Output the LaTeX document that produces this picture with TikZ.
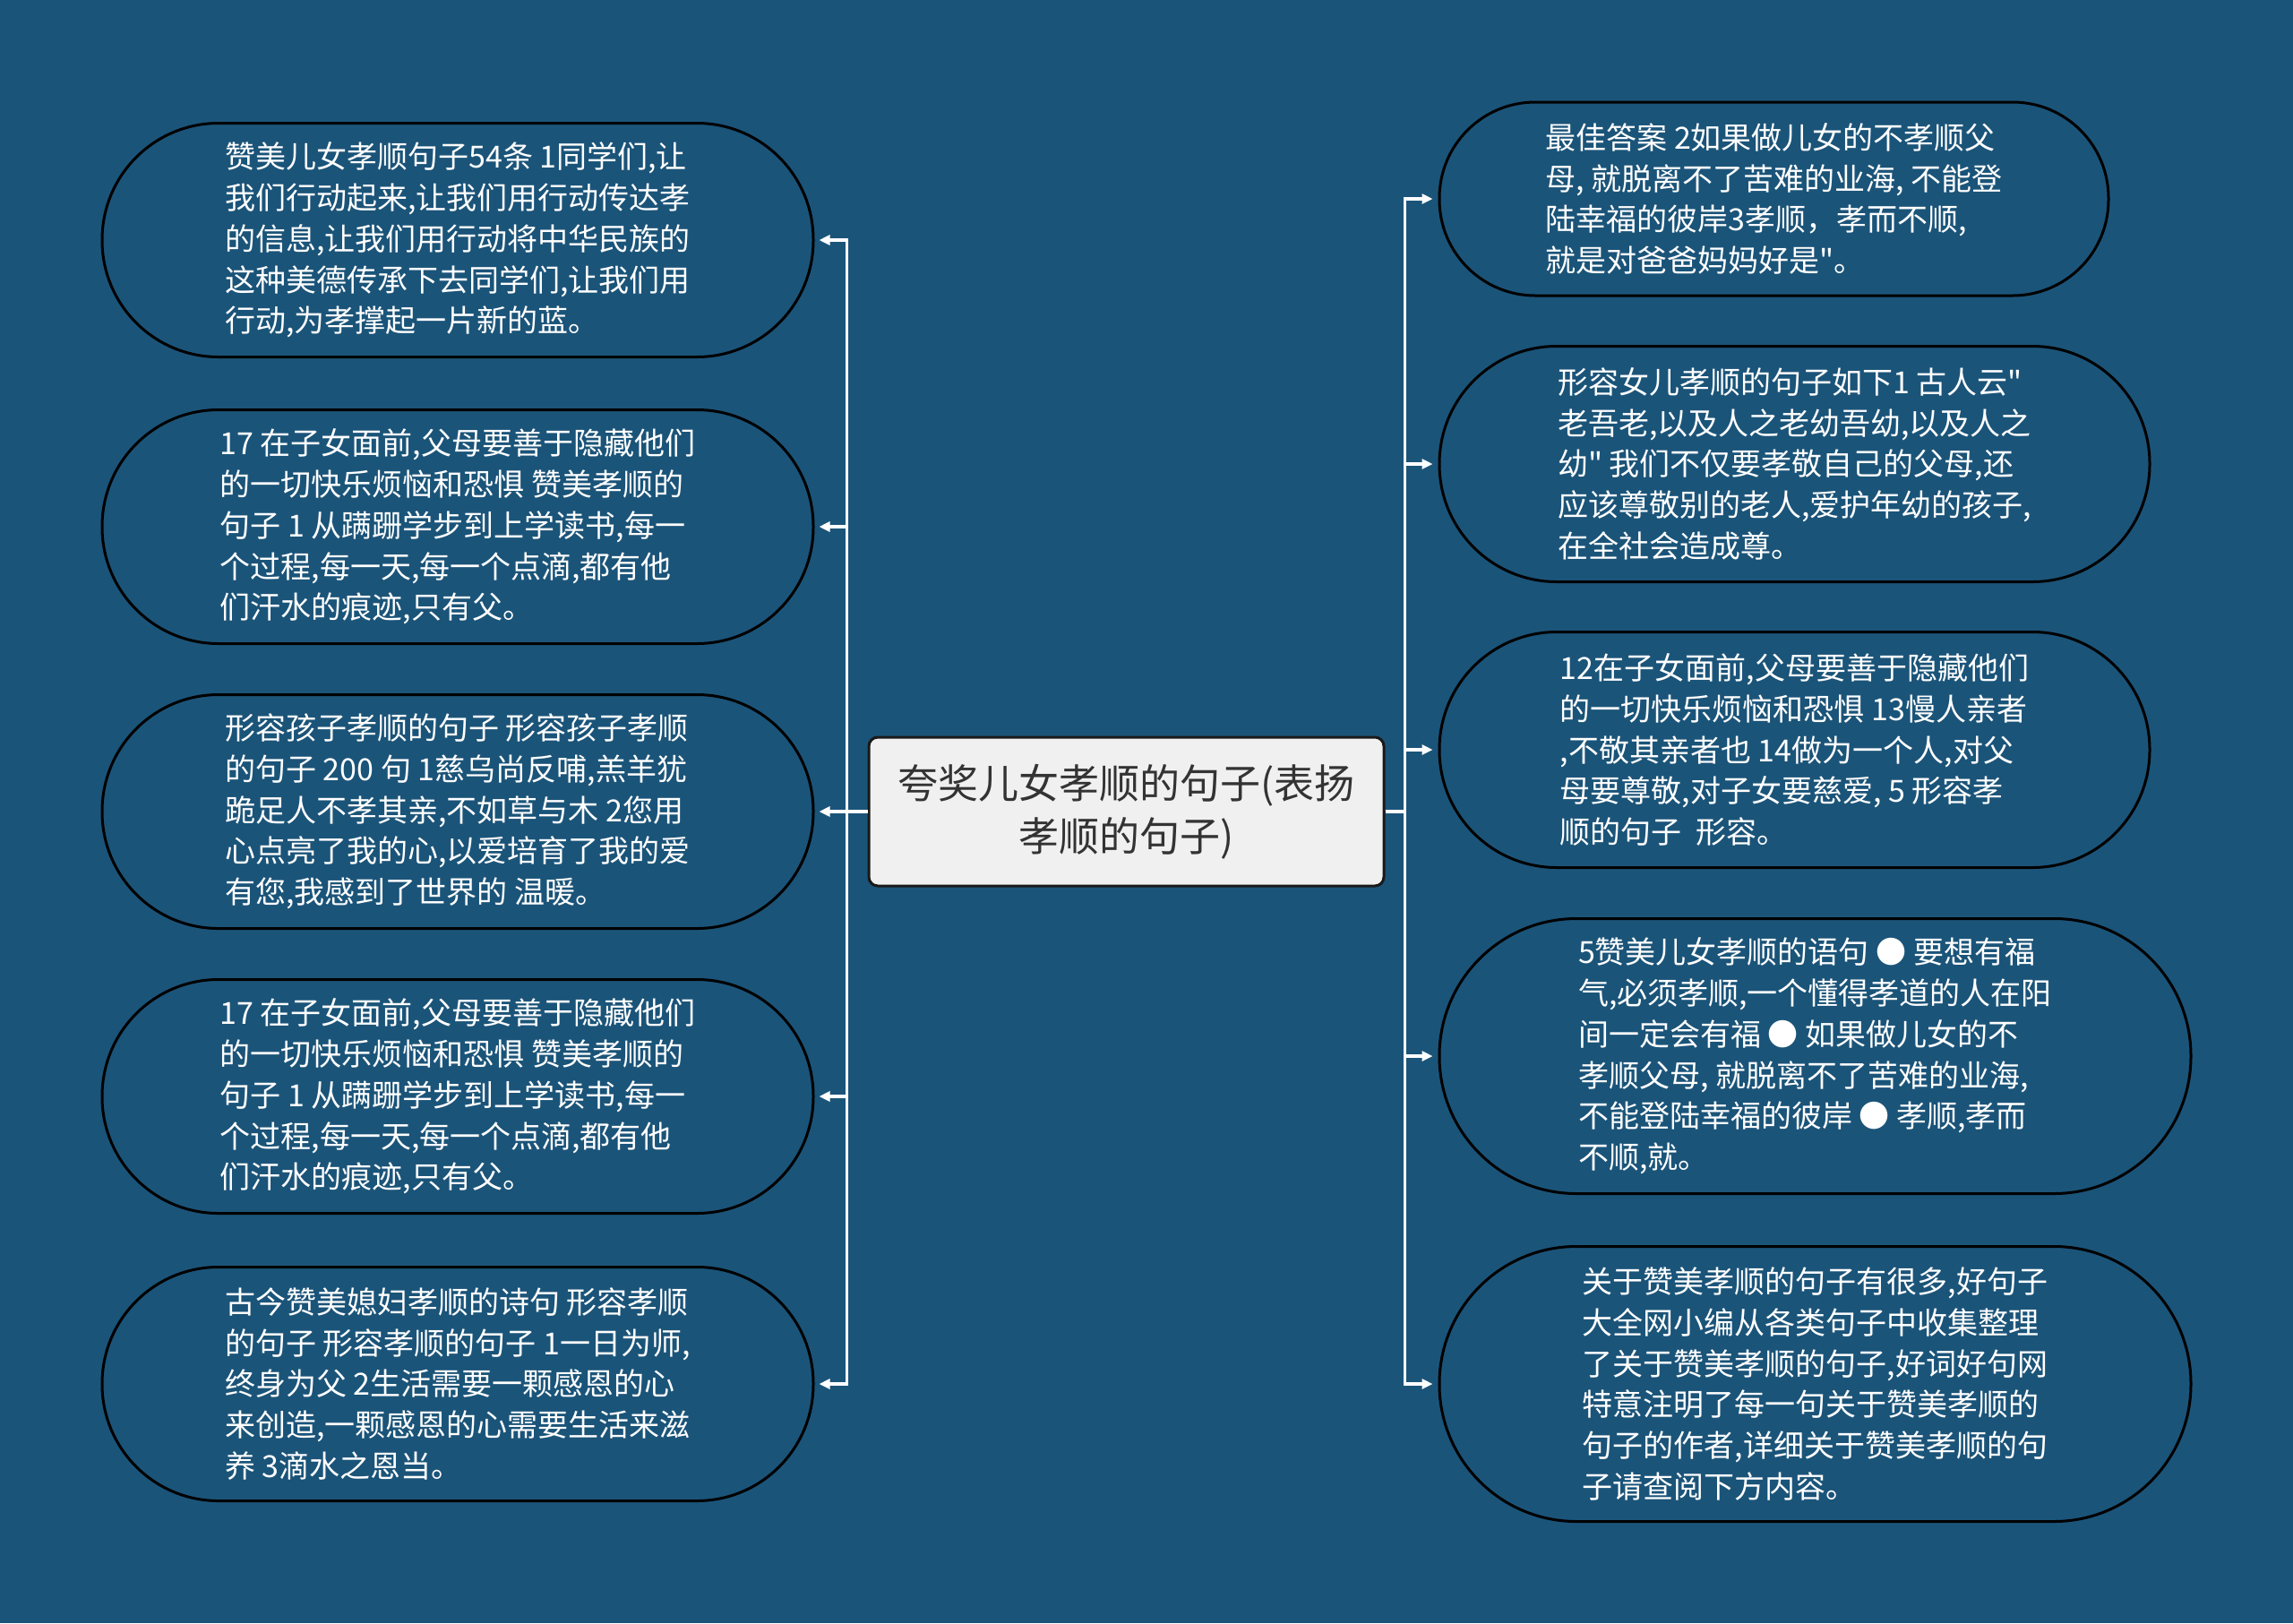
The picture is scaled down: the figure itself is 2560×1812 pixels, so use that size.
\documentclass[tikz,border=0pt]{standalone}
\usepackage{fontspec}
\setmainfont{Noto Sans CJK SC}[Ligatures=TeXOff]
\usetikzlibrary{arrows.meta}
\definecolor{bgblue}{HTML}{1B5479}
\definecolor{boxfill}{HTML}{F0F0F0}
\definecolor{boxtext}{HTML}{333333}
\begin{document}
\begin{tikzpicture}[x=0.5pt,y=-0.5pt,
  leaf/.style={draw=black, line width=1.5pt, fill=bgblue, text=white, align=left,
    font=\fontsize{17pt}{22.9pt}\selectfont, inner sep=0pt},
  lsize/.style={minimum width=397pt, minimum height=130.5pt, rounded corners=65pt},
  r1size/.style={minimum width=373.5pt, minimum height=108pt, rounded corners=53.5pt},
  r2size/.style={minimum width=396.5pt, minimum height=131.5pt, rounded corners=65.5pt},
  r4size/.style={minimum width=419.5pt, minimum height=153.5pt, rounded corners=76.5pt},
  rootbox/.style={draw=black!90, line width=1.5pt, fill=boxfill, text=boxtext, align=center,
    rounded corners=5pt, minimum width=287.5pt, minimum height=83pt,
    font=\fontsize{22.5pt}{29.4pt}\selectfont},
  conn/.style={draw=white, line width=1.6pt, -{Triangle[length=6pt,width=5.5pt]}}
]
\fill[bgblue] (0,0) rectangle (2560,1812);
\useasboundingbox (0,0) rectangle (2560,1812);

\node[rootbox] (C) at (1257.5,906) {夸奖儿女孝顺的句子(表扬\\孝顺的句子)};

\node[leaf,lsize] (L1) at (511,268) {赞美儿女孝顺句子54条 1同学们,让\\我们行动起来,让我们用行动传达孝\\的信息,让我们用行动将中华民族的\\这种美德传承下去同学们,让我们用\\行动,为孝撑起一片新的蓝。};
\node[leaf,lsize] (L2) at (511,588) {17 在子女面前,父母要善于隐藏他们\\的一切快乐烦恼和恐惧 赞美孝顺的\\句子 1 从蹒跚学步到上学读书,每一\\个过程,每一天,每一个点滴,都有他\\们汗水的痕迹,只有父。};
\node[leaf,lsize] (L3) at (511,906) {形容孩子孝顺的句子 形容孩子孝顺\\的句子 200 句 1慈乌尚反哺,羔羊犹\\跪足人不孝其亲,不如草与木 2您用\\心点亮了我的心,以爱培育了我的爱\\有您,我感到了世界的 温暖。};
\node[leaf,lsize] (L4) at (511,1224) {17 在子女面前,父母要善于隐藏他们\\的一切快乐烦恼和恐惧 赞美孝顺的\\句子 1 从蹒跚学步到上学读书,每一\\个过程,每一天,每一个点滴,都有他\\们汗水的痕迹,只有父。};
\node[leaf,lsize] (L5) at (511,1545) {古今赞美媳妇孝顺的诗句 形容孝顺\\的句子 形容孝顺的句子 1一日为师,\\终身为父 2生活需要一颗感恩的心\\来创造,一颗感恩的心需要生活来滋\\养 3滴水之恩当。};

\node[leaf,r1size] (R1) at (1980.5,222) {最佳答案 2如果做儿女的不孝顺父\\母, 就脱离不了苦难的业海, 不能登\\陆幸福的彼岸3孝顺，孝而不顺,\\就是对爸爸妈妈好是"。};
\node[leaf,r2size] (R2) at (2003.5,518) {形容女儿孝顺的句子如下1 古人云"\\老吾老,以及人之老幼吾幼,以及人之\\幼" 我们不仅要孝敬自己的父母,还\\应该尊敬别的老人,爱护年幼的孩子,\\在全社会造成尊。};
\node[leaf,r2size] (R3) at (2003.5,837) {12在子女面前,父母要善于隐藏他们\\的一切快乐烦恼和恐惧 13慢人亲者\\,不敬其亲者也 14做为一个人,对父\\母要尊敬,对子女要慈爱, 5 形容孝\\顺的句子 \ 形容。};
\node[leaf,r4size] (R4) at (2026.5,1179) {5赞美儿女孝顺的语句 ● 要想有福\\气,必须孝顺,一个懂得孝道的人在阳\\间一定会有福 ● 如果做儿女的不\\孝顺父母, 就脱离不了苦难的业海,\\不能登陆幸福的彼岸 ● 孝顺,孝而\\不顺,就。};
\node[leaf,r4size] (R5) at (2026.5,1545) {关于赞美孝顺的句子有很多,好句子\\大全网小编从各类句子中收集整理\\了关于赞美孝顺的句子,好词好句网\\特意注明了每一句关于赞美孝顺的\\句子的作者,详细关于赞美孝顺的句\\子请查阅下方内容。};

\foreach \n in {L1,L2,L3,L4,L5}
  \draw[conn] (C.west) -- ++(-23,0) |- ([xshift=2.5pt]\n.east);
\foreach \n in {R1,R2,R3,R4,R5}
  \draw[conn] (C.east) -- ++(22,0) |- ([xshift=-3pt]\n.west);
\end{tikzpicture}
\end{document}
